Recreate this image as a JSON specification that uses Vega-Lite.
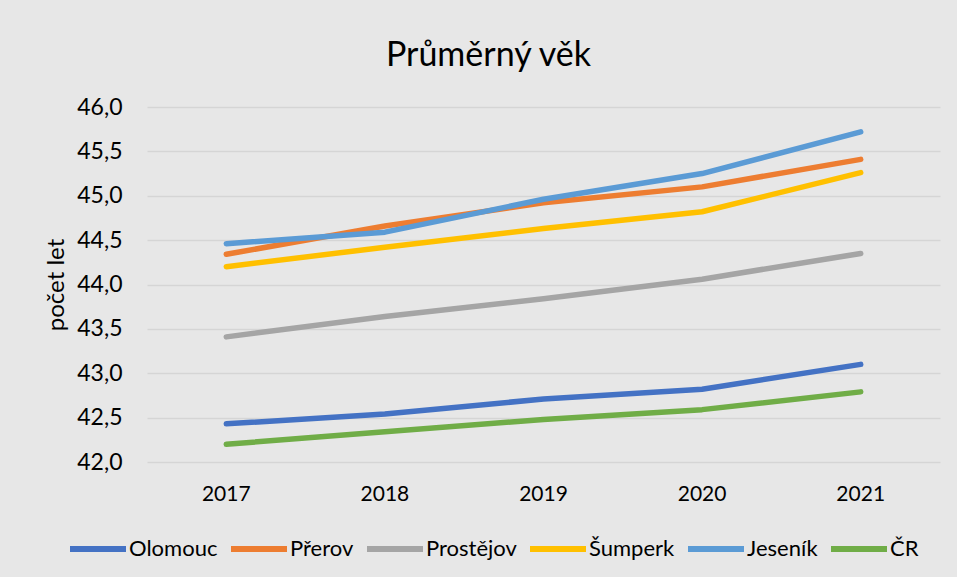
{
  "$schema": "https://vega.github.io/schema/vega-lite/v6.json",
  "autosize": {"type": "none"},
  "width": 793,
  "height": 355,
  "padding": {"left": 147, "top": 107, "right": 17, "bottom": 115},
  "background": "#e7e7e7",
  "title": {
    "text": "Průměrný věk",
    "font": "Lato",
    "fontSize": 34,
    "fontWeight": "normal",
    "color": "#000000",
    "anchor": "middle",
    "frame": "group",
    "dx": -55,
    "offset": 23
  },
  "config": {
    "view": {"stroke": null},
    "font": "Lato",
    "axis": {
      "labelFont": "Lato",
      "labelColor": "#000000",
      "titleFont": "Lato",
      "titleColor": "#000000",
      "domain": false,
      "ticks": false
    }
  },
  "data": {
    "values": [
      {"rok": "2017", "okres": "Olomouc", "vek": 42.43},
      {"rok": "2018", "okres": "Olomouc", "vek": 42.54},
      {"rok": "2019", "okres": "Olomouc", "vek": 42.71},
      {"rok": "2020", "okres": "Olomouc", "vek": 42.82},
      {"rok": "2021", "okres": "Olomouc", "vek": 43.10},
      {"rok": "2017", "okres": "Přerov", "vek": 44.34},
      {"rok": "2018", "okres": "Přerov", "vek": 44.66},
      {"rok": "2019", "okres": "Přerov", "vek": 44.92},
      {"rok": "2020", "okres": "Přerov", "vek": 45.10},
      {"rok": "2021", "okres": "Přerov", "vek": 45.41},
      {"rok": "2017", "okres": "Prostějov", "vek": 43.41},
      {"rok": "2018", "okres": "Prostějov", "vek": 43.64},
      {"rok": "2019", "okres": "Prostějov", "vek": 43.84},
      {"rok": "2020", "okres": "Prostějov", "vek": 44.06},
      {"rok": "2021", "okres": "Prostějov", "vek": 44.35},
      {"rok": "2017", "okres": "Šumperk", "vek": 44.20},
      {"rok": "2018", "okres": "Šumperk", "vek": 44.42},
      {"rok": "2019", "okres": "Šumperk", "vek": 44.63},
      {"rok": "2020", "okres": "Šumperk", "vek": 44.82},
      {"rok": "2021", "okres": "Šumperk", "vek": 45.26},
      {"rok": "2017", "okres": "Jeseník", "vek": 44.46},
      {"rok": "2018", "okres": "Jeseník", "vek": 44.59},
      {"rok": "2019", "okres": "Jeseník", "vek": 44.96},
      {"rok": "2020", "okres": "Jeseník", "vek": 45.25},
      {"rok": "2021", "okres": "Jeseník", "vek": 45.72},
      {"rok": "2017", "okres": "ČR", "vek": 42.20},
      {"rok": "2018", "okres": "ČR", "vek": 42.34},
      {"rok": "2019", "okres": "ČR", "vek": 42.48},
      {"rok": "2020", "okres": "ČR", "vek": 42.59},
      {"rok": "2021", "okres": "ČR", "vek": 42.79}
    ]
  },
  "mark": {"type": "line", "strokeWidth": 5.5, "strokeCap": "round", "strokeJoin": "round"},
  "encoding": {
    "x": {
      "field": "rok",
      "type": "ordinal",
      "title": null,
      "scale": {"type": "band", "paddingInner": 0, "paddingOuter": 0},
      "axis": {"labelAngle": 0, "labelFontSize": 21, "labelPadding": 21, "grid": false}
    },
    "y": {
      "field": "vek",
      "type": "quantitative",
      "title": "počet let",
      "scale": {"domain": [42, 46], "zero": false, "nice": false},
      "axis": {
        "values": [42, 42.5, 43, 43.5, 44, 44.5, 45, 45.5, 46],
        "labelExpr": "replace(format(datum.value, '.1f'), '.', ',')",
        "labelFontSize": 23,
        "labelPadding": 25,
        "titleFontSize": 24,
        "titleFontWeight": "normal",
        "titlePadding": 8,
        "grid": true,
        "gridColor": "#d5d5d5",
        "gridWidth": 1.5
      }
    },
    "color": {
      "field": "okres",
      "type": "nominal",
      "sort": ["Olomouc", "Přerov", "Prostějov", "Šumperk", "Jeseník", "ČR"],
      "scale": {
        "domain": ["Olomouc", "Přerov", "Prostějov", "Šumperk", "Jeseník", "ČR"],
        "range": ["#4472C4", "#ED7D31", "#A5A5A5", "#FFC000", "#5B9BD5", "#70AD47"]
      },
      "legend": {
        "title": null,
        "orient": "none",
        "direction": "horizontal",
        "legendX": -80,
        "legendY": 411,
        "symbolType": "stroke",
        "symbolSize": 3136,
        "symbolStrokeWidth": 6,
        "labelFontSize": 22,
        "labelFont": "Lato",
        "labelColor": "#000000",
        "labelOffset": 0,
        "columnPadding": 1
      }
    }
  }
}
